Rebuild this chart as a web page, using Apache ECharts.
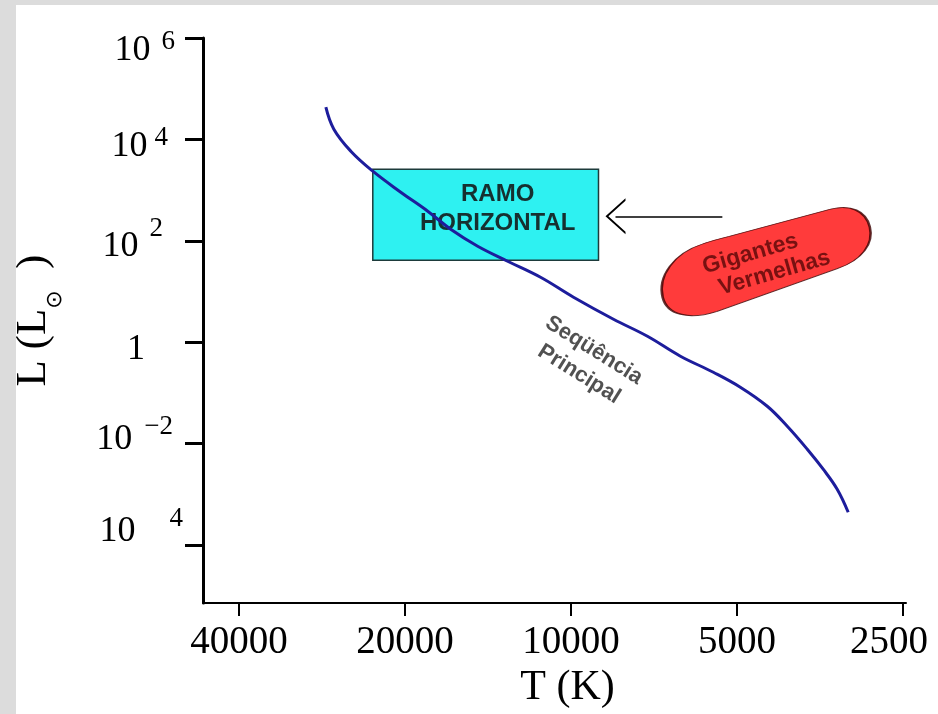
<!DOCTYPE html>
<html>
<head>
<meta charset="utf-8">
<script src="https://cdn.jsdelivr.net/npm/echarts@6/dist/echarts.min.js"></script>
<style>
html, body { margin: 0; padding: 0; background: #dcdcdc; }
#main { position: absolute; left: 16px; top: 5px; width: 922px; height: 709px; background: #fff; }
</style>
</head>
<body>
<div id="main"></div>
<script>
// main sequence (T in K, L in solar units)
var tempK = [27830, 26918, 25075, 22878, 20358, 18190, 16527, 14766, 13031, 11357, 9897,
             8376, 7269, 6334, 5521, 4933, 4408, 4055, 3730, 3490, 3292, 3144];
var lumSun = [43150, 15900, 5850, 2360, 910, 384, 169, 78.2, 39.6, 19.1, 7.72,
              2.84, 1.31, 0.53, 0.256, 0.130, 0.0547, 0.0220, 0.00776, 0.00313, 0.00126, 0.000443];

var xTicks = [40000, 20000, 10000, 5000, 2500];
var yTicks = [1e-4, 1e-2, 1, 1e2, 1e4, 1e6];
var yTickBase = ['10', '10', '1', '10', '10', '10'];
var yTickSup = ['4', '\u22122', '', '2', '4', '6'];

// annotations (T, L)
var horizBranch = [[22878, 2584], [8917, 41.4]];
var redGiants = [4426, 37.8];
var msLabelAt = [9374, 0.403];
var arrowFromTo = [[5317, 305], [8306, 305]];

var serif = 'Liberation Serif, DejaVu Serif, serif';
var sans = 'Liberation Sans, Arial, sans-serif';

// hand-set look of the y tick labels (the scan has them a bit uneven)
// pb/ps: drop of base/exponent from the top of the label box, gap: space before exponent, pr: space at right
var yLabelLook = [
  { pb: 8, ps: 0, gap: 34, pr: 0 },
  { pb: 18, ps: 10, gap: 12, pr: 10 },
  { pb: 29, ps: 0, gap: 0, pr: 38 },
  { pb: 28, ps: 15, gap: 11, pr: 20 },
  { pb: 29, ps: 25, gap: 7, pr: 15 },
  { pb: 35, ps: 30, gap: 11, pr: 8 }
];

var yRich = { h: { lineHeight: 80, width: 0 } };
yLabelLook.forEach(function (l, i) {
  yRich['b' + i] = { fontSize: 36, fontFamily: serif, color: '#000', verticalAlign: 'top', padding: [l.pb, 0, 0, 0] };
  yRich['s' + i] = { fontSize: 27, fontFamily: serif, color: '#000', verticalAlign: 'top', padding: [l.ps, l.pr, 0, l.gap] };
});

var msData = tempK.map(function (t, i) { return [t, lumSun[i]]; });

function tickIndex(v) {
  var e = Math.log(v) / Math.LN10;
  for (var k = 0; k < yTicks.length; k++) {
    if (Math.abs(Math.log(yTicks[k]) / Math.LN10 - e) < 0.01) return k;
  }
  return -1;
}

var chart = echarts.init(document.getElementById('main'));

chart.setOption({
  animation: false,
  grid: { left: 187, top: 33, right: 32, bottom: 111, containLabel: false, outerBoundsMode: 'none' },
  xAxis: {
    type: 'log',
    logBase: 2,
    inverse: true,
    min: 2470,
    max: 46480,
    axisLine: { lineStyle: { color: '#000', width: 2 } },
    axisTick: { customValues: xTicks, length: 13, lineStyle: { color: '#000', width: 2 } },
    axisLabel: {
      customValues: xTicks,
      margin: 20,
      color: '#000',
      formatter: function (v) {
        var s = String(Math.round(v));
        return v < 3000 ? '{e|' + s + '}' : '{n|' + s + '}';
      },
      rich: {
        n: { fontSize: 39, fontFamily: serif, color: '#000' },
        e: { fontSize: 39, fontFamily: serif, color: '#000', padding: [0, 28, 0, 0] }
      }
    },
    splitLine: { show: false },
    name: 'T (K)',
    nameLocation: 'middle',
    nameGap: 60,
    nameTextStyle: { fontSize: 42, fontFamily: serif, color: '#000', padding: [0, 0, 0, 26] }
  },
  yAxis: {
    type: 'log',
    logBase: 10,
    min: 7.2e-6,
    max: 1e6,
    axisLine: { lineStyle: { color: '#000', width: 3 } },
    axisTick: { customValues: yTicks, length: 18, lineStyle: { color: '#000', width: 3 } },
    axisLabel: {
      customValues: yTicks,
      margin: 20,
      formatter: function (v) {
        var i = tickIndex(v);
        if (i < 0) return '';
        return '{h|}{b' + i + '|' + yTickBase[i] + '}{s' + i + '|' + yTickSup[i] + '}';
      },
      rich: yRich
    },
    splitLine: { show: false },
    name: '{h|}{a|L (L}{o|\u2299}{a|  )}',
    nameLocation: 'middle',
    nameRotate: 90,
    nameGap: 137,
    nameTextStyle: {
      rich: {
        h: { lineHeight: 54, width: 0 },
        a: { fontSize: 43, fontFamily: serif, color: '#000', verticalAlign: 'top' },
        o: { fontSize: 22, fontFamily: 'DejaVu Sans, sans-serif', color: '#000', verticalAlign: 'bottom' }
      }
    }
  },
  series: [
    {
      // holder for the horizontal-branch box
      type: 'line',
      data: [],
      z: 1,
      markArea: {
        silent: true,
        itemStyle: { color: '#2ef1f1', borderColor: '#1d3b3b', borderWidth: 1.5 },
        label: {
          show: true,
          position: 'inside',
          offset: [12, -6],
          formatter: 'RAMO\nHORIZONTAL',
          fontFamily: sans,
          fontWeight: 'bold',
          fontSize: 24,
          lineHeight: 29,
          color: '#163030'
        },
        data: [[{ coord: horizBranch[0] }, { coord: horizBranch[1] }]]
      }
    },
    {
      name: 'Sequência Principal',
      type: 'line',
      data: msData,
      symbol: 'none',
      smooth: 0.4,
      z: 3,
      lineStyle: { color: '#1d1d9c', width: 3 },
      markLine: {
        silent: true,
        symbol: ['none', 'path://M10,0 L20,18 L18.6,18 L10,2.6 L1.4,18 L0,18 Z'],
        symbolSize: [36, 20],
        lineStyle: { color: '#000', width: 1.5, type: 'solid' },
        label: { show: false },
        data: [[{ coord: arrowFromTo[0] }, { coord: arrowFromTo[1] }]]
      }
    },
    {
      name: 'Gigantes Vermelhas',
      type: 'scatter',
      data: [redGiants],
      z: 4,
      symbol: 'path://M52,3 C22,5 0,24 0,47 C0,66 20,77 50,75 L178,62 C204,60 220,46 220,28 C220,10 206,0 186,0 L80,2 C68,2 60,2 52,3 Z',
      symbolSize: [218, 72],
      symbolRotate: 14,
      itemStyle: { color: '#ff0a0a', borderColor: '#3a0000', borderWidth: 1.5 },
      label: {
        show: true,
        position: 'inside',
        rotate: 16,
        formatter: '{g|Gigantes}\n{v|Vermelhas}',
        rich: {
          g: { fontFamily: sans, fontWeight: 'bold', fontSize: 23, lineHeight: 25, color: '#560808', padding: [0, 26, 0, 0] },
          v: { fontFamily: sans, fontWeight: 'bold', fontSize: 23, lineHeight: 25, color: '#560808', padding: [0, 0, 0, 10] }
        }
      }
    },
    {
      type: 'scatter',
      data: [msLabelAt],
      z: 4,
      symbolSize: 0,
      label: {
        show: true,
        position: 'inside',
        rotate: -32,
        formatter: 'Seqüência\nPrincipal',
        fontFamily: sans,
        fontWeight: 'bold',
        fontSize: 22,
        lineHeight: 28,
        color: '#262626'
      }
    }
  ]
});
</script>
</body>
</html>
